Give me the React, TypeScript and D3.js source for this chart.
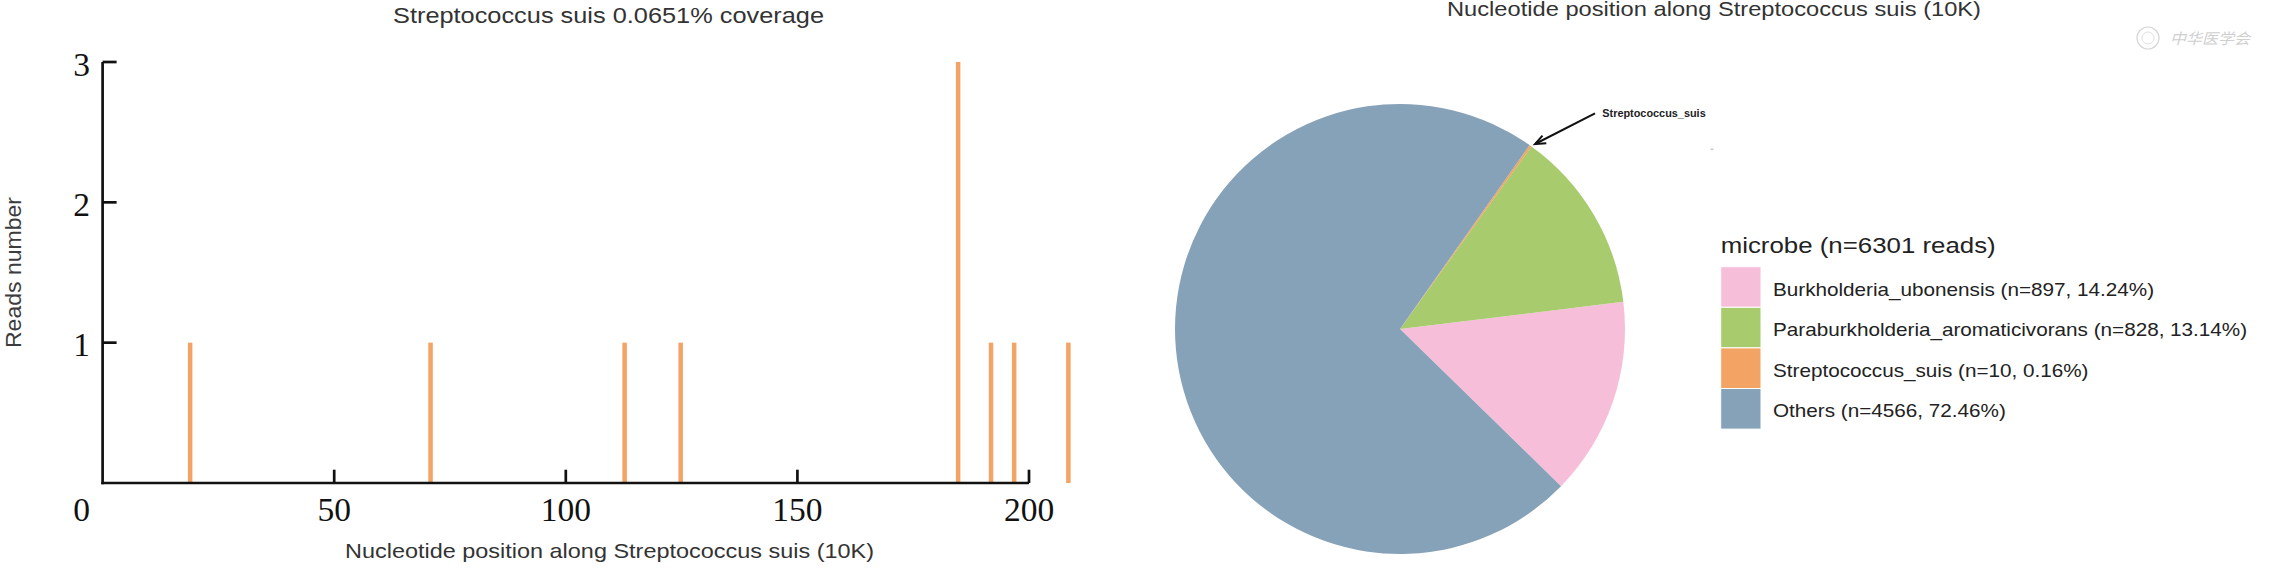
import React from 'react';
import { scaleLinear, pie, arc, sum } from 'd3';

// coverage plot data (position in 10K units, number of reads)
const positions = [18.9, 70.8, 112.7, 124.8, 184.7, 191.8, 196.8, 208.5];
const reads = [1, 1, 1, 1, 3, 1, 1, 1];
const xTicks = [0, 50, 100, 150, 200];
const yTicks = [1, 2, 3];

// pie data
const microbes = ['Burkholderia_ubonensis', 'Paraburkholderia_aromaticivorans', 'Streptococcus_suis', 'Others'];
const microbeReads = [897, 828, 10, 4566];
const microbeColors = ['#F6BED9', '#A8CB6E', '#F3A363', '#86A2B8'];

const barColor = '#F5A365';
const sans = '"Liberation Sans", Arial, sans-serif';
const serif = '"Liberation Serif", "Times New Roman", serif';

function App() {
  const x = scaleLinear().domain([0, 200]).range([102.6, 1029]);
  const y = scaleLinear().domain([0, 3]).range([483, 62]);
  const axisW = 2.7;

  const total = sum(microbeReads);
  const start = (134.3 * Math.PI) / 180;
  const slices = pie<number>()
    .sort(null)
    .value(d => d)
    .startAngle(start)
    .endAngle(start - 2 * Math.PI)(microbeReads);
  const arcGen = arc<any>().innerRadius(0).outerRadius(225);
  const cx = 1400;
  const cy = 329;

  const keyX = 1720.7;
  const keyTop = 266.7;
  const keyH = 40.6;

  return (
    <svg
      width={2274}
      height={573}
      style={{ position: 'absolute', left: 0, top: 0, display: 'block', background: '#fff' }}
    >
      {/* ---------- left: coverage chart ---------- */}
      <text x={608.5} y={23} fontFamily={sans} fontSize={22} fill="#333" textAnchor="middle"
        textLength={431} lengthAdjust="spacingAndGlyphs">
        Streptococcus suis 0.0651% coverage
      </text>

      {positions.map((p, i) => (
        <rect key={i} x={x(p) - 2.25} y={y(reads[i])} width={4.5} height={y(0) - y(reads[i])} fill={barColor} />
      ))}

      {/* axes */}
      <line x1={x(0)} x2={x(0)} y1={y(3)} y2={y(0) + axisW / 2} stroke="#111" strokeWidth={axisW} />
      <line x1={x(0) - axisW / 2} x2={x(200)} y1={y(0)} y2={y(0)} stroke="#111" strokeWidth={axisW} />
      {yTicks.map(t => (
        <g key={t}>
          <line x1={x(0)} x2={x(0) + 14} y1={y(t)} y2={y(t)} stroke="#111" strokeWidth={axisW} />
          <text x={x(0) - 21} y={y(t) + 13.5} fontFamily={serif} fontSize={33.5} fill="#111" textAnchor="middle">
            {t}
          </text>
        </g>
      ))}
      {xTicks.map(t => (
        <g key={t}>
          {t > 0 && <line x1={x(t)} x2={x(t)} y1={y(0)} y2={y(0) - 13.3} stroke="#111" strokeWidth={axisW} />}
          <text x={t === 0 ? x(0) - 21 : x(t)} y={520.5} fontFamily={serif} fontSize={33.5} fill="#111" textAnchor="middle">
            {t}
          </text>
        </g>
      ))}

      <text x={345} y={557.7} fontFamily={sans} fontSize={21} fill="#333"
        textLength={529} lengthAdjust="spacingAndGlyphs">
        Nucleotide position along Streptococcus suis (10K)
      </text>
      <text transform="translate(20.5,272.5) rotate(-90)" fontFamily={sans} fontSize={22} fill="#3c3c3c"
        textAnchor="middle" textLength={151} lengthAdjust="spacingAndGlyphs">
        Reads number
      </text>

      {/* ---------- right: pie chart ---------- */}
      <text x={1447} y={15.7} fontFamily={sans} fontSize={21} fill="#333"
        textLength={534} lengthAdjust="spacingAndGlyphs">
        Nucleotide position along Streptococcus suis (10K)
      </text>

      <g transform={`translate(${cx},${cy})`}>
        {slices.map((s, i) => (
          <path key={i} d={arcGen(s) as string} fill={microbeColors[i]} />
        ))}
      </g>

      {/* annotation arrow */}
      <line x1={1595} y1={113.3} x2={1536} y2={143.5} stroke="#111" strokeWidth={2} />
      <polyline points="1542.5,135.6 1535,144 1546.3,143.2" fill="none" stroke="#111" strokeWidth={2} />
      <text x={1602.3} y={116.5} fontFamily={sans} fontSize={11} fontWeight="bold" fill="#222"
        textLength={103.4} lengthAdjust="spacingAndGlyphs">
        Streptococcus_suis
      </text>
      <rect x={1710.5} y={148.6} width={3} height={1.4} fill="#c8c0c4" />

      {/* legend */}
      <text x={keyX} y={253.3} fontFamily={sans} fontSize={22} fill="#222"
        textLength={275} lengthAdjust="spacingAndGlyphs">
        microbe (n={total} reads)
      </text>
      {microbes.map((m, i) => (
        <g key={m}>
          <rect x={keyX} y={keyTop + i * keyH} width={40.3} height={keyH} fill={microbeColors[i]}
            stroke="#fff" strokeWidth={1} />
          <text transform={`translate(1773,${keyTop + i * keyH + keyH / 2 + 8.5}) scale(1.113,1)`}
            fontFamily={sans} fontSize={18.6} fill="#222">
            {`${m} (n=${microbeReads[i]}, ${((microbeReads[i] / total) * 100).toFixed(2)}%)`}
          </text>
        </g>
      ))}

      {/* faint watermark */}
      <circle cx={2148} cy={38} r={11} fill="none" stroke="#d6d6d6" strokeWidth={1.2} />
      <circle cx={2148} cy={38} r={6} fill="none" stroke="#e0e0e0" strokeWidth={1} />
      <text x={2170} y={44} fontFamily='"Noto Sans CJK SC", sans-serif' fontSize={15} fontStyle="italic"
        fill="#cfcfcf" textLength={80} lengthAdjust="spacingAndGlyphs">
        中华医学会
      </text>
    </svg>
  );
}

export default App;
